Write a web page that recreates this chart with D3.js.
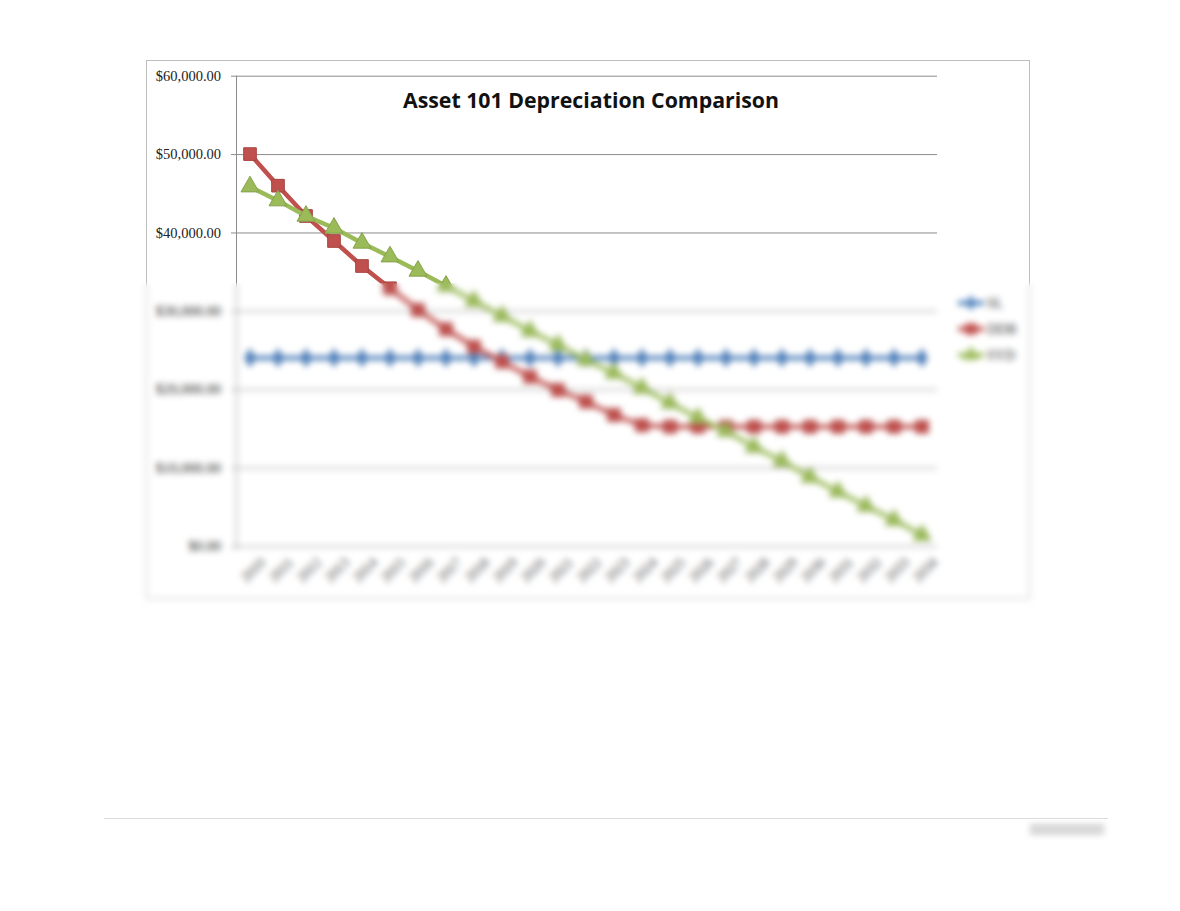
<!DOCTYPE html>
<html>
<head>
<meta charset="utf-8">
<script src="https://cdn.jsdelivr.net/npm/d3@7"></script>
<style>
  body { margin: 0; background: #fff; }
  #container { position: relative; width: 1180px; height: 911px; }
  .fog { position: absolute; backdrop-filter: blur(3px); -webkit-backdrop-filter: blur(3px); }
</style>
</head>
<body>
<div id="container"></div>
<script>

let years = ["2010","2011","2012","2013","2014","2015","2016","2017","2018","2019","2020","2021","2022",
             "2023","2024","2025","2026","2027","2028","2029","2030","2031","2032","2033","2034"];

let slValues = [24000,24000,24000,24000,24000,24000,24000,24000,24000,24000,24000,24000,24000,
                24000,24000,24000,24000,24000,24000,24000,24000,24000,24000,24000,24000];

let ddbValues = [50000,45970,42100,38910,35720,32880,30110,27650,25430,23510,21600,19900,18410,
                 16710,15400,15220,15220,15220,15220,15220,15220,15220,15220,15220,15220];

let sydValues = [45840,44060,42100,40570,38660,36910,35090,33170,31260,29350,27430,25650,23730,
                 22070,20160,18250,16330,14670,12630,10850,8800,6930,5100,3320,1400];

let yTicks = [0,10000,20000,30000,40000,50000,60000];

let seriesNames = ["SL","DDB","SYD"];

let w = 1180;
let h = 911;

let viz = d3.select("#container")
  .append("svg")
    .attr("width", w)
    .attr("height", h)
    .style("position", "absolute")
    .style("left", 0)
    .style("top", 0)
;

// chart frame
viz.append("rect")
    .attr("x", 146.5)
    .attr("y", 60.5)
    .attr("width", 883)
    .attr("height", 538)
    .attr("fill", "#fff")
    .attr("stroke", "#bdbdbd")
;

let xScale = d3.scaleBand().domain(years).range([236, 936]);
let yScale = d3.scaleLinear().domain([0, 60000]).range([546, 75.7]);
let fmt = function(v){ return "$" + d3.format(",.2f")(v); };

// gridlines + y labels
let yAxis = d3.axisLeft(yScale)
  .tickValues(yTicks)
  .tickSize(-(937 - 231))
  .tickPadding(10)
  .tickFormat(fmt);

let yAxisGroup = viz.append("g")
    .attr("class", "yaxisgroup")
    .attr("transform", "translate(231,0)")
;
yAxisGroup.call(yAxis);
yAxisGroup.select(".domain").remove();
yAxisGroup.selectAll(".tick line").attr("stroke", "#8c8c8c").attr("stroke-width", 1);
yAxisGroup.selectAll(".tick text")
    .attr("font-family", "'Liberation Serif', serif")
    .attr("font-size", "14.5px")
    .attr("fill", "#222")
;

// vertical axis line
viz.append("line")
    .attr("x1", 236.5).attr("x2", 236.5)
    .attr("y1", yScale(60000)).attr("y2", yScale(0) + 4)
    .attr("stroke", "#8c8c8c")
;

// x labels
let xAxis = d3.axisBottom(xScale).tickSize(0).tickPadding(6);
let xAxisGroup = viz.append("g")
    .attr("class", "xaxisgroup")
    .attr("transform", "translate(0," + yScale(0) + ")")
;
xAxisGroup.call(xAxis);
xAxisGroup.select(".domain").attr("stroke", "#8c8c8c");
xAxisGroup.selectAll(".tick text")
    .attr("font-family", "'Liberation Serif', serif")
    .attr("font-size", "14px")
    .attr("fill", "#444")
    .attr("text-anchor", "end")
    .attr("transform", "translate(5,6) rotate(-45)")
;

// title
viz.append("text")
    .text("Asset 101 Depreciation Comparison")
    .attr("x", 591)
    .attr("y", 108)
    .attr("text-anchor", "middle")
    .attr("font-family", "'Open Sans', sans-serif")
    .attr("font-weight", "bold")
    .attr("font-size", "21.3px")
    .attr("fill", "#111")
;

let seriesData = [
  { name: seriesNames[0], values: slValues, color: "#4f81bd", shape: d3.symbolDiamond, size: 95 },
  { name: seriesNames[1], values: ddbValues, color: "#c0504d", shape: d3.symbolSquare, size: 160 },
  { name: seriesNames[2], values: sydValues, color: "#9bbb59", shape: d3.symbolTriangle, size: 140 }
];

let line = d3.line()
  .x(function(d, i){ return xScale(years[i]) + xScale.bandwidth() / 2; })
  .y(function(d){ return yScale(d); });

let graphgroup = viz.append("g").attr("class", "graphgroup");

seriesData.forEach(function(s){
  graphgroup.append("path")
      .attr("d", line(s.values))
      .attr("fill", "none")
      .attr("stroke", s.color)
      .attr("stroke-width", 4.5)
  ;
  graphgroup.selectAll(".pt-" + s.name).data(s.values).enter()
    .append("path")
      .attr("class", "pt-" + s.name)
      .attr("d", d3.symbol().type(s.shape).size(s.size))
      .attr("fill", s.color)
      .attr("stroke", d3.color(s.color).darker(0.4))
      .attr("stroke-width", 1)
      .attr("transform", function(d, i){
        return "translate(" + (xScale(years[i]) + xScale.bandwidth() / 2) + "," + yScale(d) + ")";
      })
  ;
});

// legend
let legend = viz.append("g").attr("transform", "translate(958,303)");
seriesData.forEach(function(s, i){
  let g = legend.append("g").attr("transform", "translate(0," + (i * 26) + ")");
  g.append("line")
      .attr("x1", 0).attr("x2", 26)
      .attr("stroke", s.color).attr("stroke-width", 4.5);
  g.append("path")
      .attr("d", d3.symbol().type(s.shape).size(s.size * 0.8))
      .attr("transform", "translate(13,0)")
      .attr("fill", s.color);
  g.append("text")
      .text(s.name)
      .attr("x", 29)
      .attr("y", 5)
      .attr("font-family", "'Liberation Serif', serif")
      .attr("font-size", "14px")
      .attr("fill", "#333");
});

// page rule and footer mark
viz.append("line")
    .attr("x1", 104).attr("x2", 1108)
    .attr("y1", 818.5).attr("y2", 818.5)
    .attr("stroke", "#dcdcdc")
;
viz.append("rect")
    .attr("x", 1030).attr("y", 824)
    .attr("width", 74).attr("height", 11)
    .attr("fill", "#d6d6d6")
;

// blurred band over the lower part of the chart
d3.select("#container").append("div")
    .attr("class", "fog")
    .style("left", "134px")
    .style("top", "283px")
    .style("width", "904px")
    .style("height", "325px")
;
d3.select("#container").append("div")
    .attr("class", "fog")
    .style("left", "1024px")
    .style("top", "820px")
    .style("width", "86px")
    .style("height", "20px")
;

</script>
</body>
</html>
